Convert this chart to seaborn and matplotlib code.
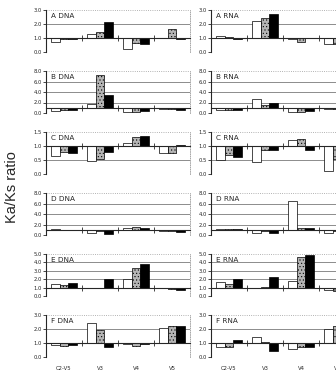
import numpy as np
import pandas as pd
import seaborn as sns
import matplotlib.pyplot as plt

regions = ['C2-V5', 'V3', 'V4', 'V5']
series = ['set 1', 'set 2', 'set 3']
colors = ['white', '#b4b4b4', 'black']

# Ka/Ks ratios, one list per set (white, stippled, black) over the 4 regions
a_dna = [[0.70, 1.30, 0.20, 1.00], [0.90, 1.43, 0.62, 1.65], [0.92, 2.17, 0.55, 0.95]]
a_rna = [[1.15, 2.20, 0.95, 0.60], [1.10, 2.45, 0.75, 0.60], [0.90, 2.70, 1.00, 0.60]]
b_dna = [[0.45, 1.80, 0.10, 0.85], [0.60, 7.30, 0.20, 0.80], [0.50, 3.50, 0.40, 0.60]]
b_rna = [[0.60, 2.60, 0.10, 0.70], [0.60, 1.60, 0.25, 0.70], [0.50, 1.90, 0.30, 0.70]]
c_dna = [[0.65, 0.47, 1.09, 0.75], [0.78, 0.55, 1.31, 0.74], [0.74, 0.78, 1.37, 1.05]]
c_rna = [[0.50, 0.44, 1.21, 0.10], [0.68, 0.84, 1.24, 0.53], [0.60, 0.84, 0.86, 0.60]]
d_dna = [[1.05, 0.40, 1.30, 0.85], [1.00, 0.80, 1.50, 0.80], [0.95, 0.20, 1.40, 0.60]]
d_rna = [[1.05, 0.30, 6.40, 0.35], [1.10, 0.80, 1.40, 0.70], [1.05, 0.40, 1.40, 0.70]]
e_dna = [[1.40, 1.00, 2.00, 0.90], [1.30, 1.00, 3.30, 0.80], [1.55, 2.00, 3.75, 0.70]]
e_rna = [[1.70, 0.90, 1.80, 0.75], [1.45, 1.10, 4.70, 0.60], [2.00, 2.30, 4.85, 0.60]]
f_dna = [[0.85, 2.45, 0.95, 2.10], [0.78, 1.90, 0.80, 2.25], [0.87, 0.75, 0.95, 2.20]]
f_rna = [[0.70, 1.40, 0.60, 2.00], [0.72, 1.10, 0.72, 2.25], [1.20, 0.45, 0.68, 2.10]]

panels = [
    [('A DNA', a_dna), ('A RNA', a_rna)],
    [('B DNA', b_dna), ('B RNA', b_rna)],
    [('C DNA', c_dna), ('C RNA', c_rna)],
    [('D DNA', d_dna), ('D RNA', d_rna)],
    [('E DNA', e_dna), ('E RNA', e_rna)],
    [('F DNA', f_dna), ('F RNA', f_rna)],
]
y_max = [3.0, 8.0, 1.5, 8.0, 5.0, 3.0]
y_step = [1.0, 2.0, 0.5, 2.0, 1.0, 1.0]

sns.set_style('ticks')
plt.rcParams['font.family'] = ['DejaVu Sans']
plt.rcParams['hatch.linewidth'] = 0.4

W, H = 336, 378
fig = plt.figure(figsize=(W / 100, H / 100), dpi=100)

for row in range(6):
    for col in range(2):
        label, vals = panels[row][col]
        df = pd.DataFrame({
            'region': np.tile(regions, 3),
            'series': np.repeat(series, 4),
            'ratio': np.ravel(vals),
        })
        # bars grow up or down from a ratio of 1.0
        df['dev'] = df['ratio'] - 1

        x0 = [46, 211][col]
        top_px = 10 + 61 * row
        ax = fig.add_axes([x0 / W, 1 - (top_px + 42) / H, 144 / W, 42 / H])
        sns.barplot(data=df, x='region', y='dev', hue='series', order=regions,
                    hue_order=series, palette=colors, width=0.7, saturation=1,
                    edgecolor='black', linewidth=0.5, legend=False, ax=ax)
        for bar in ax.containers[1]:
            bar.set_hatch('.....')

        ticks = np.arange(0, y_max[row] + y_step[row] / 2, y_step[row])
        ax.set_yticks(ticks - 1, labels=[f'{t:.1f}' for t in ticks])
        ax.set_ylim(-1, y_max[row] - 1)
        ax.set_xlim(-0.5, 3.5)
        ax.set_xlabel('')
        ax.set_ylabel('')

        ax.set_axisbelow(True)
        ax.yaxis.grid(True, color='#7a7a7a', lw=0.6)
        grid = ax.yaxis.get_gridlines()
        for g in (grid[0], grid[-1]):
            g.set_linestyle(':')
            g.set_color('#999999')

        ax.spines['bottom'].set_position(('data', 0))
        ax.spines['bottom'].set_linewidth(0.8)
        ax.spines['left'].set_linewidth(0.8)
        ax.spines['top'].set_visible(False)
        ax.spines['right'].set_linestyle(':')
        ax.spines['right'].set_color('#999999')
        ax.spines['right'].set_linewidth(0.6)

        ax.tick_params(axis='y', labelsize=3.8, length=2, width=0.6, pad=1)
        ax.tick_params(axis='x', which='major', length=0, labelbottom=False)
        ax.set_xticks([0.5, 1.5, 2.5], minor=True)
        ax.tick_params(axis='x', which='minor', direction='inout', length=4, width=0.6)

        ax.text(0.033, 0.92, label, transform=ax.transAxes, ha='left', va='top',
                fontsize=5.2)

        if row == 5:
            sec = ax.secondary_xaxis('bottom')
            sec.set_xticks(range(4), labels=regions)
            sec.tick_params(length=0, labelsize=3.8, pad=6.5)
            sec.spines['bottom'].set_visible(False)

fig.text(12 / W, 1 - 187 / H, 'Ka/Ks ratio', rotation=90, ha='center', va='center',
         fontsize=10.5, family='Liberation Sans')

fig.savefig('out.png', dpi=100)
